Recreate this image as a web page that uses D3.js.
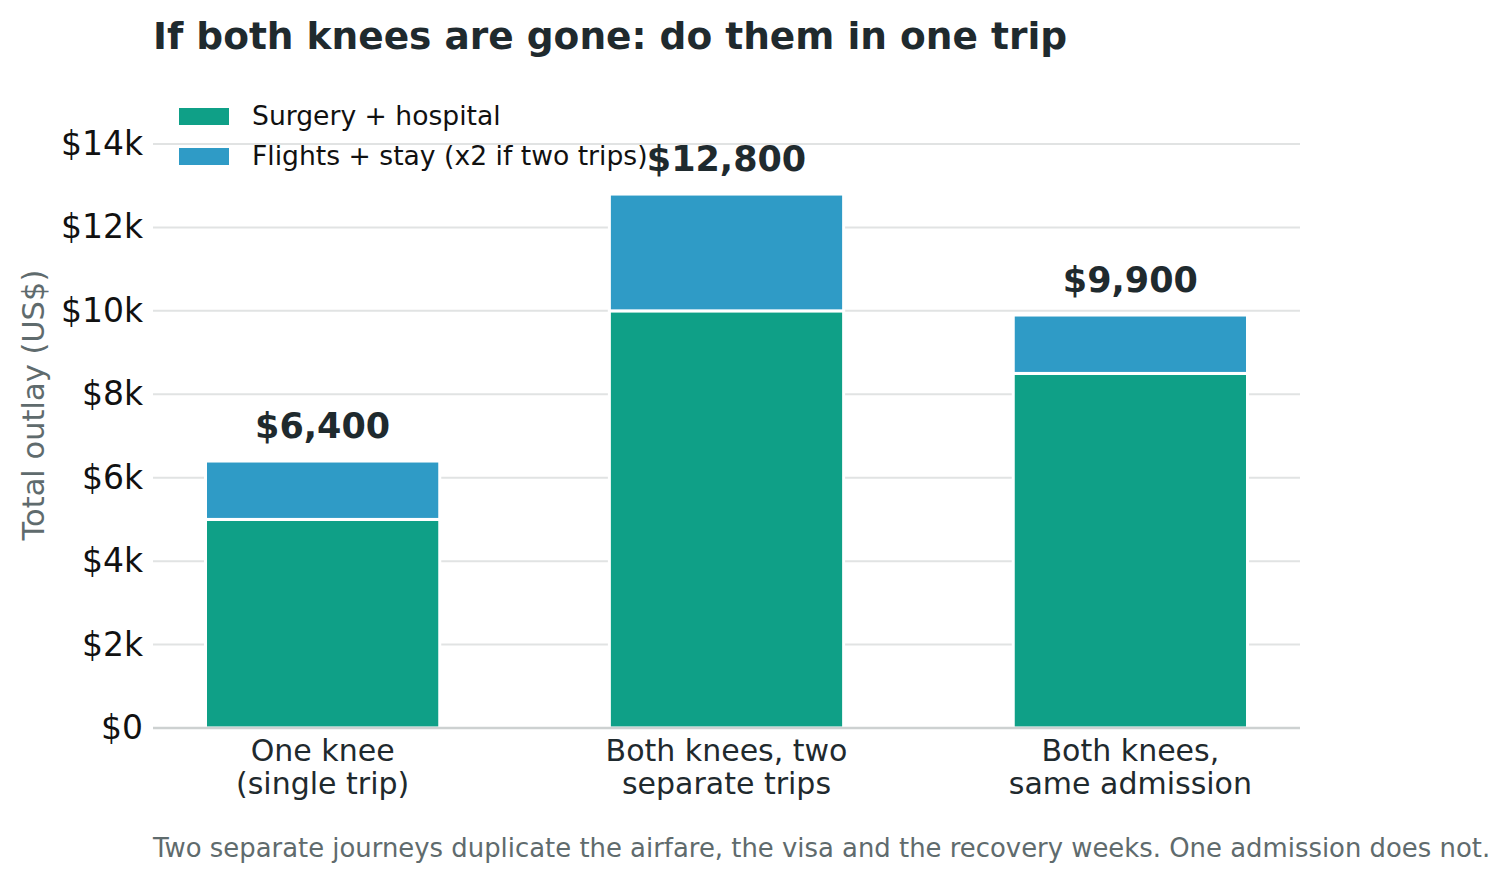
<!DOCTYPE html>
<html lang="en">

<head>
    <meta charset="UTF-8">
    <title>If both knees are gone</title>
    <script src="https://d3js.org/d3.v7.min.js"></script>
    <style type="text/css">
        body {
            margin: 0;
            background: #fff;
        }

        svg text {
            font-family: "DejaVu Sans", sans-serif;
        }
    </style>
</head>

<body>
    <div id="chartArea"></div>
    <script type="text/javascript">
        var categories = ['One knee\n(single trip)', 'Both knees, two\nseparate trips', 'Both knees,\nsame admission'];
        var surgery = [5000, 10000, 8500];
        var travel = [1400, 2800, 1400];
        var seriesNames = ['Surgery + hospital', 'Flights + stay (x2 if two trips)'];
        var yTicks = [0, 2000, 4000, 6000, 8000, 10000, 12000, 14000];

        var W = 1510, H = 883;
        var margin = { top: 144, right: 210, bottom: 155, left: 153 };
        var w = W - margin.left - margin.right,
            h = H - margin.top - margin.bottom;

        var green = '#0fa087', blue = '#2f9bc6';
        var dark = '#1f2a2e', grey = '#5f6b6d';

        var svg = d3.select('#chartArea').append('svg')
            .attr('width', W)
            .attr('height', H);

        var g = svg.append('g')
            .attr('transform', 'translate(' + margin.left + ', ' + margin.top + ')');

        var xScale = d3.scaleBand()
            .domain(categories)
            .range([0, w])
            .paddingInner(0.42)
            .paddingOuter(0.13);

        var yScale = d3.scaleLinear()
            .domain([0, 14000])
            .range([h, 0]);

        // gridlines
        g.selectAll('.grid')
            .data(yTicks.slice(1))
            .enter()
            .append('line')
            .attr('x1', 0)
            .attr('x2', w)
            .attr('y1', function (d) { return yScale(d); })
            .attr('y2', function (d) { return yScale(d); })
            .attr('stroke', '#e1e3e3')
            .attr('stroke-width', 2);

        // y tick labels
        var yAxis = d3.axisLeft(yScale)
            .tickValues(yTicks)
            .tickSize(0)
            .tickPadding(10)
            .tickFormat(function (d) { return d === 0 ? '$0' : '$' + d / 1000 + 'k'; });

        var yG = g.append('g').call(yAxis);
        yG.select('.domain').remove();
        yG.selectAll('text')
            .attr('font-size', 33)
            .attr('fill', '#111')
            .style('font-family', '"DejaVu Sans", sans-serif');

        // stacked bars
        var rows = categories.map(function (c, i) {
            return { cat: c, surgery: surgery[i], travel: travel[i] };
        });
        var stack = d3.stack().keys(['surgery', 'travel'])(rows);
        var colors = [green, blue];

        g.selectAll('.layer')
            .data(stack)
            .enter()
            .append('g')
            .attr('fill', function (d, i) { return colors[i]; })
            .selectAll('rect')
            .data(function (d) { return d; })
            .enter()
            .append('rect')
            .attr('x', function (d) { return xScale(d.data.cat); })
            .attr('y', function (d) { return yScale(d[1]); })
            .attr('width', xScale.bandwidth())
            .attr('height', function (d) { return yScale(d[0]) - yScale(d[1]); })
            .attr('stroke', '#fff')
            .attr('stroke-width', 3);

        // baseline
        g.append('line')
            .attr('x1', 0)
            .attr('x2', w)
            .attr('y1', h)
            .attr('y2', h)
            .attr('stroke', '#cdd1d1')
            .attr('stroke-width', 2.5);

        // totals
        var fmt = d3.format(',');
        g.selectAll('.total')
            .data(rows)
            .enter()
            .append('text')
            .attr('x', function (d) { return xScale(d.cat) + xScale.bandwidth() / 2; })
            .attr('y', function (d) { return yScale(d.surgery + d.travel) - 23; })
            .attr('text-anchor', 'middle')
            .attr('font-size', 35)
            .attr('font-weight', 'bold')
            .attr('fill', dark)
            .text(function (d) { return '$' + fmt(d.surgery + d.travel); });

        // x category labels
        var xl = g.selectAll('.xlabel')
            .data(categories)
            .enter()
            .append('text')
            .attr('text-anchor', 'middle')
            .attr('font-size', 30)
            .attr('fill', dark)
            .attr('transform', function (d) {
                return 'translate(' + (xScale(d) + xScale.bandwidth() / 2) + ',' + (h + 33) + ')';
            });
        xl.selectAll('tspan')
            .data(function (d) { return d.split('\n'); })
            .enter()
            .append('tspan')
            .attr('x', 0)
            .attr('dy', function (d, i) { return i === 0 ? 0 : 33; })
            .text(function (d) { return d; });

        // y axis title
        svg.append('text')
            .attr('transform', 'translate(44,' + (margin.top + h * 0.447) + ') rotate(-90)')
            .attr('text-anchor', 'middle')
            .attr('font-size', 30.5)
            .attr('fill', grey)
            .text('Total outlay (US$)');

        // legend
        var legend = svg.append('g').attr('transform', 'translate(179,116)');
        var li = legend.selectAll('g')
            .data(seriesNames)
            .enter()
            .append('g')
            .attr('transform', function (d, i) { return 'translate(0,' + i * 40 + ')'; });
        li.append('rect')
            .attr('x', 0)
            .attr('y', -8)
            .attr('width', 50)
            .attr('height', 17)
            .attr('fill', function (d, i) { return colors[i]; });
        li.append('text')
            .attr('x', 73)
            .attr('y', 9)
            .attr('font-size', 26.6)
            .attr('fill', '#111')
            .text(function (d) { return d; });

        // title and note
        svg.append('text')
            .attr('x', 153)
            .attr('y', 49)
            .attr('font-size', 37.5)
            .attr('font-weight', 'bold')
            .attr('fill', dark)
            .text('If both knees are gone: do them in one trip');

        svg.append('text')
            .attr('x', 153)
            .attr('y', 857)
            .attr('font-size', 25.9)
            .attr('fill', grey)
            .text('Two separate journeys duplicate the airfare, the visa and the recovery weeks. One admission does not.');
    </script>
</body>

</html>
